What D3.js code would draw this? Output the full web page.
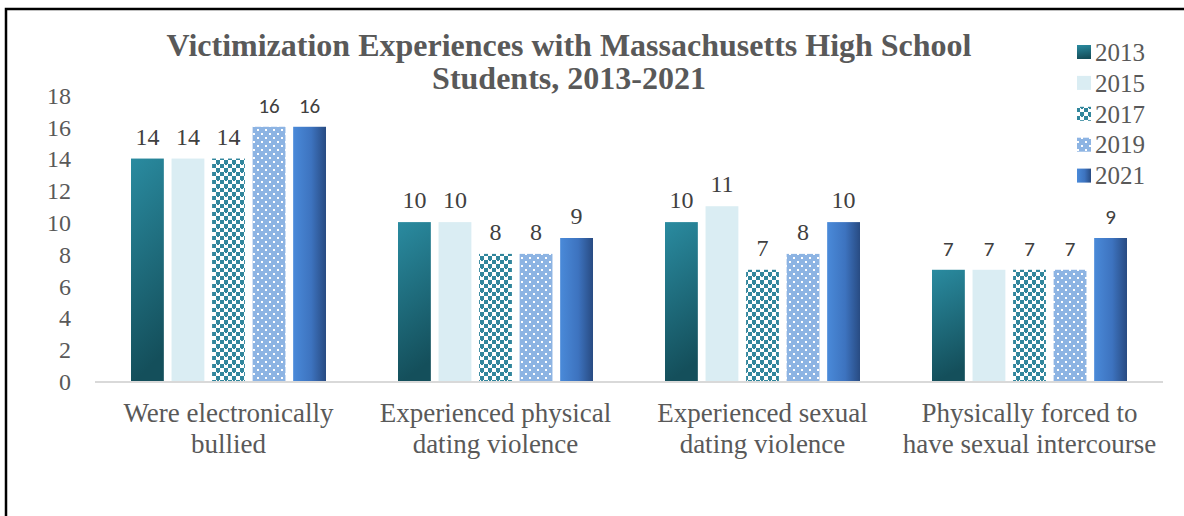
<!DOCTYPE html>
<html><head><meta charset="utf-8">
<script src="https://cdn.jsdelivr.net/npm/d3@7"></script>
<style>body{margin:0;background:#fff}svg{display:block}</style>
</head><body>
<script>
const categories = [["Were electronically","bullied"],["Experienced physical","dating violence"],["Experienced sexual","dating violence"],["Physically forced to","have sexual intercourse"]];
const years = ["2013","2015","2017","2019","2021"];
const v2013 = [14,10,10,7];
const v2015 = [14,10,11,7];
const v2017 = [14,8,7,7];
const v2019 = [16,8,8,7];
const v2021 = [16,9,10,9];
const yTicks = [0,2,4,6,8,10,12,14,16,18];
const series = [v2013,v2015,v2017,v2019,v2021];

const W=1184,H=516;
const svg=d3.select("body").append("svg").attr("width",W).attr("height",H);
const defs=svg.append("defs");
const g1=defs.append("linearGradient").attr("id","g2013").attr("x1",0).attr("y1",0).attr("x2",0.15).attr("y2",1);
g1.append("stop").attr("offset","0%").attr("stop-color","#2a8ba0");
g1.append("stop").attr("offset","100%").attr("stop-color","#144f5b");
const g5=defs.append("linearGradient").attr("id","g2021").attr("x1",0).attr("y1",0).attr("x2",1).attr("y2",0);
g5.append("stop").attr("offset","0%").attr("stop-color","#4a8ad9");
g5.append("stop").attr("offset","55%").attr("stop-color","#3d73bf");
g5.append("stop").attr("offset","100%").attr("stop-color","#284b82");
const p3=defs.append("pattern").attr("id","p2017").attr("width",8).attr("height",8).attr("patternUnits","userSpaceOnUse");
p3.append("rect").attr("width",8).attr("height",8).attr("fill","#fff");
p3.append("rect").attr("x",0).attr("y",0).attr("width",4).attr("height",4).attr("fill","#31869c");
p3.append("rect").attr("x",4).attr("y",4).attr("width",4).attr("height",4).attr("fill","#31869c");
p3.append("rect").attr("x",1).attr("y",3).attr("width",2).attr("height",2).attr("fill","#31869c");
p3.append("rect").attr("x",5).attr("y",7).attr("width",2).attr("height",2).attr("fill","#31869c");
const p4=defs.append("pattern").attr("id","p2019").attr("width",8).attr("height",8).attr("patternUnits","userSpaceOnUse");
p4.append("rect").attr("width",8).attr("height",8).attr("fill","#8db4e3");
p4.append("rect").attr("x",1).attr("y",1).attr("width",2).attr("height",2).attr("fill","#fff");
p4.append("rect").attr("x",5).attr("y",5).attr("width",2).attr("height",2).attr("fill","#fff");
const fills=["url(#g2013)","#daedf3","url(#p2017)","url(#p2019)","url(#g2021)"];

svg.append("path").attr("d",`M6,${H} V9 H${W}`).attr("fill","none").attr("stroke","#000").attr("stroke-width",2.5);

const serif="'Liberation Serif','Times New Roman',serif";
const sans="Carlito,'Open Sans','Liberation Sans',sans-serif";
const grey="#595959";

const y=d3.scaleLinear().domain([0,18]).range([381,95]);
const x0=d3.scaleBand().domain(d3.range(categories.length)).range([95,1163]).paddingInner(0).paddingOuter(0);
const x1=d3.scaleBand().domain(d3.range(years.length)).range([36,x0.bandwidth()-36]).paddingInner(0.19).paddingOuter(0);

const yAx=svg.append("g").attr("transform","translate(71,0)").call(d3.axisLeft(y).tickValues(yTicks).tickSize(0).tickPadding(0));
yAx.select(".domain").remove();
yAx.selectAll("text").attr("font-family",serif).attr("font-size",24).attr("fill",grey).attr("dy","0.35em");

const sansLabels=new Set(["0-3","0-4","3-0","3-1","3-2","3-3","3-4"]);
series.forEach((vals,si)=>{
  const g=svg.append("g");
  g.selectAll("rect").data(vals).join("rect")
   .attr("x",(d,i)=>x0(i)+x1(si)).attr("y",d=>y(d))
   .attr("width",x1.bandwidth()).attr("height",d=>y(0)-y(d))
   .attr("fill",fills[si]);
  g.selectAll("text").data(vals).join("text")
   .attr("x",(d,i)=>x0(i)+x1(si)+x1.bandwidth()/2).attr("y",d=>y(d)-14)
   .attr("text-anchor","middle")
   .attr("font-family",(d,i)=>sansLabels.has(i+"-"+si)?sans:serif)
   .attr("font-size",(d,i)=>sansLabels.has(i+"-"+si)?21:24)
   .attr("fill","#404040").text(d=>d);
});

svg.append("line").attr("x1",95).attr("x2",1163).attr("y1",382).attr("y2",382).attr("stroke","#d9d9d9").attr("stroke-width",2);
categories.forEach((lines,i)=>{
  const t=svg.append("text").attr("text-anchor","middle").attr("font-family",serif).attr("font-size",27).attr("fill",grey);
  lines.forEach((l,k)=>t.append("tspan").attr("x",x0(i)+x0.bandwidth()/2).attr("y",422+k*31).text(l));
});

const tt=svg.append("text").attr("text-anchor","middle").attr("font-family",serif).attr("font-weight","bold").attr("font-size",32).attr("fill",grey);
tt.append("tspan").attr("x",569).attr("y",56).text("Victimization Experiences with Massachusetts High School");
tt.append("tspan").attr("x",569).attr("y",89).text("Students, 2013-2021");

const lg=svg.append("g");
years.forEach((yr,i)=>{
  const cy=52+i*30.9;
  lg.append("rect").attr("x",1077).attr("y",cy-7).attr("width",14).attr("height",14).attr("fill",fills[i]);
  lg.append("text").attr("x",1095).attr("y",cy).attr("dy","0.35em").attr("font-family",serif).attr("font-size",25).attr("fill",grey).text(yr);
});
</script>
</body></html>
